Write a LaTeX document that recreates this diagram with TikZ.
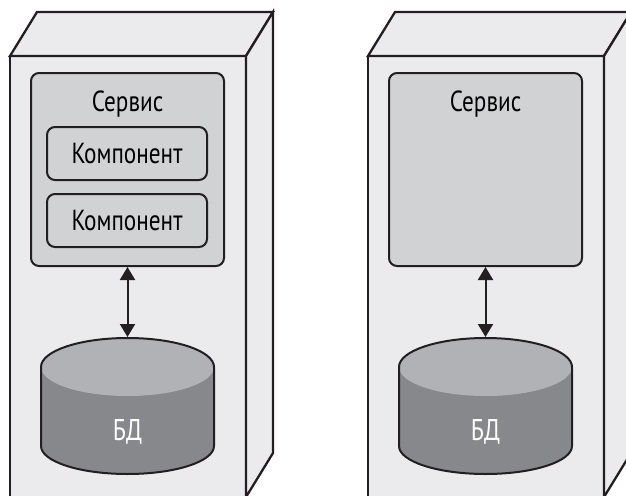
\documentclass[tikz,border=0pt]{standalone}
\usepackage{fontspec}
\setmainfont{PT Sans}[FakeStretch=0.8]
\usetikzlibrary{arrows.meta}

\definecolor{inkline}{HTML}{231F20}
\definecolor{cabfill}{HTML}{EBEBED}
\definecolor{servfill}{HTML}{D1D2D4}
\definecolor{dbtopfill}{HTML}{B1B2B5}
\definecolor{dbbodyfill}{HTML}{87888B}

\tikzset{
  cabinet/.style={draw=inkline, fill=cabfill, line width=2.3pt, line join=miter},
  service/.style={draw=inkline, fill=servfill, line width=2pt, rounded corners=8pt, inner sep=0pt},
  comp/.style={service, minimum width=160pt, minimum height=53pt, font=\fontsize{29}{34}\selectfont},
  srvlabel/.style={anchor=base, inner sep=0pt, font=\fontsize{29}{34}\selectfont},
  dblabel/.style={text=white, inner sep=0pt, font=\fontsize{30}{36}\selectfont},
  link/.style={draw=inkline, line width=2pt, {Triangle[width=15pt,length=13pt]}-{Triangle[width=15pt,length=13pt]}}
}

\begin{document}
\begin{tikzpicture}[x=1pt, y=-1pt]
  \useasboundingbox (0,0) rectangle (626,495);
  \clip (0,0) rectangle (626,495);

  % left cabinet
  \draw[cabinet] (10,56) rectangle (246,520);
  \draw[cabinet] (10,56) -- (37,12) -- (273,12) -- (246,56) -- cycle;
  \draw[cabinet] (246,56) -- (273,12) -- (273,453) -- (246,497) -- cycle;

  \node (srvA) [service, minimum width=193pt, minimum height=193pt] at (127.5,169.5) {};
  \node (srvAname) [srvlabel] at (127.5,111) {Сервис};
  \node (compA) [comp] at (127,153.5) {Компонент};
  \node (compB) [comp] at (127,220.5) {Компонент};

  % left database
  \fill[dbbodyfill] (41,367) -- (41,446) arc (180:0:86.5 and 28) -- (214,367) -- cycle;
  \fill[dbtopfill] (127.5,367) ellipse (86.5 and 29);
  \draw[inkline, line width=2pt] (41,367) -- (41,446) arc (180:0:86.5 and 28) -- (214,367) arc (0:-180:86.5 and 29);
  \coordinate (dbAtop) at (127.5,337);
  \node (dbA) [dblabel] at (127.5,432) {БД};

  \draw[link] (srvA.south) -- (dbAtop);

  % right cabinet
  \draw[cabinet] (368,56) rectangle (604,520);
  \draw[cabinet] (368,56) -- (395,12) -- (631,12) -- (604,56) -- cycle;
  \draw[cabinet] (604,56) -- (631,12) -- (631,453) -- (604,497) -- cycle;

  \node (srvB) [service, minimum width=193pt, minimum height=193pt] at (485.5,169.5) {};
  \node (srvBname) [srvlabel] at (485.5,111) {Сервис};

  % right database
  \fill[dbbodyfill] (399,367) -- (399,446) arc (180:0:86.5 and 28) -- (572,367) -- cycle;
  \fill[dbtopfill] (485.5,367) ellipse (86.5 and 29);
  \draw[inkline, line width=2pt] (399,367) -- (399,446) arc (180:0:86.5 and 28) -- (572,367) arc (0:-180:86.5 and 29);
  \coordinate (dbBtop) at (485.5,337);
  \node (dbB) [dblabel] at (485.5,432) {БД};

  \draw[link] (srvB.south) -- (dbBtop);
\end{tikzpicture}
\end{document}
